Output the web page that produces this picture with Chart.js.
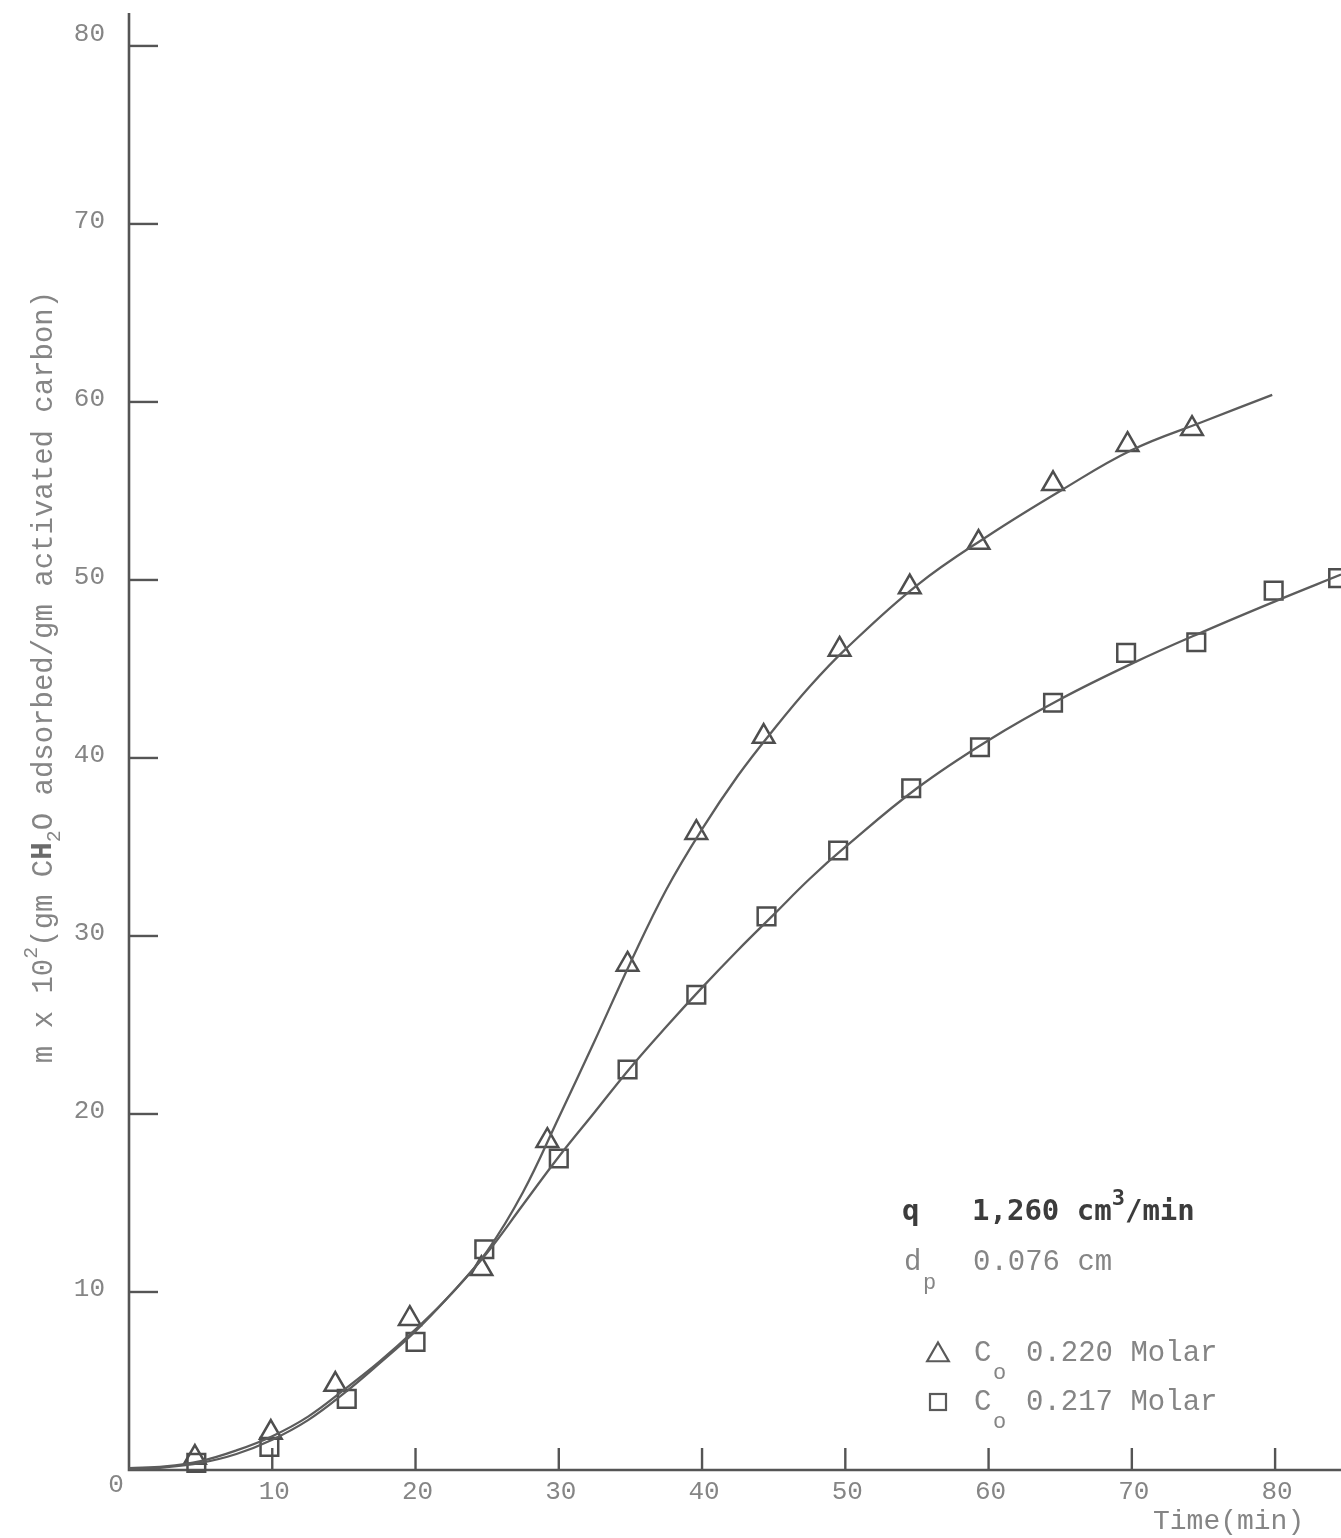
<!DOCTYPE html>
<html>
<head>
<meta charset="utf-8">
<script src="https://cdn.jsdelivr.net/npm/chart.js@4/dist/chart.umd.min.js"></script>
<style>
  html, body { margin: 0; padding: 0; background: #ffffff; }
  #wrap { position: relative; width: 1341px; height: 1538px; }
</style>
</head>
<body>
<div id="wrap"><canvas id="c"></canvas></div>
<script>
// Measured uptake, C0 = 0.220 M (triangles)
const timeTri   = [4.6, 9.9, 14.4, 19.6, 24.6, 29.2, 34.8, 39.6, 44.3, 49.6, 54.5, 59.3, 64.5, 69.7, 74.2];
const uptakeTri = [0.7, 2.1, 4.8, 8.5, 11.3, 18.5, 28.4, 35.8, 41.2, 46.1, 49.6, 52.1, 55.4, 57.6, 58.5];

// Measured uptake, C0 = 0.217 M (squares)
const timeSq   = [4.7, 9.8, 15.2, 20.0, 24.8, 30.0, 34.8, 39.6, 44.5, 49.5, 54.6, 59.4, 64.5, 69.6, 74.5, 79.9, 84.4];
const uptakeSq = [0.4, 1.3, 4.0, 7.2, 12.4, 17.5, 22.5, 26.7, 31.1, 34.8, 38.3, 40.6, 43.1, 45.9, 46.5, 49.4, 50.1];

// Hand-drawn smooth curves through each set
const curveTime220   = [0, 2.5, 5, 7.5, 10, 12.5, 15, 17.5, 20, 22.5, 25, 27.5, 30, 32.5, 35, 37.5, 40, 42.5, 45, 47.5, 50, 55, 60, 65, 70, 75, 79.8];
const curveUptake220 = [0.1, 0.2, 0.5, 1.1, 1.9, 3.0, 4.5, 6.1, 7.9, 9.9, 12.3, 15.6, 19.8, 24.1, 28.5, 32.6, 36.0, 39.0, 41.6, 44.0, 46.1, 49.7, 52.5, 55.0, 57.3, 58.9, 60.4];
const curveTime217   = [0, 2.5, 5, 7.5, 10, 12.5, 15, 17.5, 20, 22.5, 25, 27.5, 30, 32.5, 35, 37.5, 40, 42.5, 45, 47.5, 50, 55, 60, 65, 70, 75, 80, 84.6];
const curveUptake217 = [0.05, 0.15, 0.4, 0.9, 1.7, 2.8, 4.3, 6.0, 7.8, 9.9, 12.2, 14.9, 17.6, 20.1, 22.6, 24.9, 27.1, 29.2, 31.2, 33.2, 35.0, 38.3, 41.0, 43.3, 45.3, 47.1, 48.8, 50.3];

const xTickValues = [10, 20, 30, 40, 50, 60, 70, 80];
const yTickValues = [10, 20, 30, 40, 50, 60, 70, 80];
const xAxisTitle = 'Time(min)';

const INK = '#555555';
const TYPE = '#858585';
const MONO = '"Liberation Mono", "DejaVu Sans Mono", monospace';

const pairs = (xs, ys) => xs.map((x, i) => ({ x: x, y: ys[i] }));

// Draws a sequence of text runs; each run may be raised/lowered and use its own font.
function drawRuns(ctx, runs, x, y) {
  let cx = x;
  runs.forEach(r => {
    ctx.font = r.font;
    ctx.fillStyle = r.color;
    ctx.fillText(r.t, cx, y + (r.dy || 0));
    cx += ctx.measureText(r.t).width + (r.gap || 0);
  });
  return cx - x;
}
function runsWidth(ctx, runs) {
  let w = 0;
  runs.forEach(r => { ctx.font = r.font; w += ctx.measureText(r.t).width + (r.gap || 0); });
  return w;
}

const paperPlugin = {
  id: 'paper',
  beforeDatasetsDraw(chart) {
    const ctx = chart.ctx;
    const xs = chart.scales.x, ys = chart.scales.y;
    const x0 = xs.getPixelForValue(0);
    const y0 = ys.getPixelForValue(0);
    ctx.save();
    ctx.strokeStyle = INK;
    ctx.lineWidth = 2.6;
    ctx.lineCap = 'butt';
    // axes
    ctx.beginPath();
    ctx.moveTo(x0, chart.chartArea.top);
    ctx.lineTo(x0, y0);
    ctx.lineTo(chart.chartArea.right, y0);
    ctx.stroke();
    // inward tick marks
    ctx.lineWidth = 2.4;
    yTickValues.forEach(v => {
      const py = ys.getPixelForValue(v);
      ctx.beginPath();
      ctx.moveTo(x0, py);
      ctx.lineTo(x0 + 29, py);
      ctx.stroke();
    });
    xTickValues.forEach(v => {
      const px = xs.getPixelForValue(v);
      ctx.beginPath();
      ctx.moveTo(px, y0);
      ctx.lineTo(px, y0 - 22);
      ctx.stroke();
    });
    ctx.restore();
  },
  afterDraw(chart) {
    const ctx = chart.ctx;
    const xs = chart.scales.x, ys = chart.scales.y;
    const x0 = xs.getPixelForValue(0);
    const y0 = ys.getPixelForValue(0);
    ctx.save();
    ctx.textBaseline = 'middle';

    // tick labels
    ctx.fillStyle = TYPE;
    ctx.font = '26px ' + MONO;
    ctx.textAlign = 'right';
    yTickValues.forEach(v => {
      const off = v === 80 ? -12 : -3;
      ctx.fillText(String(v), x0 - 24, ys.getPixelForValue(v) + off);
    });
    ctx.textAlign = 'center';
    ctx.fillText('0', x0 - 13, y0 + 15);
    xTickValues.forEach(v => {
      ctx.fillText(String(v), xs.getPixelForValue(v) + 2, y0 + 22);
    });

    // x-axis title
    ctx.textAlign = 'left';
    ctx.font = '28px ' + MONO;
    ctx.fillText(xAxisTitle, 1153, 1522);

    // y-axis title, rotated
    const f = '29px ' + MONO, fs = '20px ' + MONO, fb = 'bold 29px ' + MONO;
    const titleRuns = [
      { t: 'm x 10', font: f, color: TYPE },
      { t: '2', font: fs, color: TYPE, dy: -12 },
      { t: '(gm C', font: f, color: TYPE },
      { t: 'H', font: fb, color: '#6a6a6a' },
      { t: '2', font: fs, color: TYPE, dy: 11 },
      { t: 'O adsorbed/gm activated carbon)', font: f, color: TYPE }
    ];
    const tw = runsWidth(ctx, titleRuns);
    ctx.save();
    ctx.translate(44, 677 + tw / 2);
    ctx.rotate(-Math.PI / 2);
    drawRuns(ctx, titleRuns, 0, 0);
    ctx.restore();

    // condition block
    const fa = '29px ' + MONO, fab = 'bold 29px "DejaVu Sans Mono", monospace', fsub = '22px ' + MONO;
    ctx.fillStyle = '#3c3c3c';
    ctx.font = fab;
    ctx.fillText('q', 902, 1212);
    drawRuns(ctx, [
      { t: '1,260 cm', font: fab, color: '#3c3c3c' },
      { t: '3', font: 'bold 22px "DejaVu Sans Mono", monospace', color: '#3c3c3c', dy: -13 },
      { t: '/min', font: fab, color: '#3c3c3c' }
    ], 972, 1212);

    drawRuns(ctx, [{ t: 'd', font: fa, color: TYPE }], 904, 1262);
    drawRuns(ctx, [{ t: 'p', font: fsub, color: TYPE }], 923, 1283);
    drawRuns(ctx, [{ t: '0.076 cm', font: fa, color: TYPE }], 973, 1262);

    // legend rows
    ctx.strokeStyle = '#5a5a5a';
    ctx.lineWidth = 2.2;
    const r = 12.5;
    ctx.beginPath();
    ctx.moveTo(938, 1355 - r);
    ctx.lineTo(938 + r * 0.866, 1355 + r * 0.5);
    ctx.lineTo(938 - r * 0.866, 1355 + r * 0.5);
    ctx.closePath();
    ctx.stroke();
    ctx.strokeRect(930, 1394, 16, 16);

    [[1353, '0.220 Molar'], [1402, '0.217 Molar']].forEach(([yy, txt]) => {
      drawRuns(ctx, [{ t: 'C', font: fa, color: TYPE }], 974, yy);
      drawRuns(ctx, [{ t: 'o', font: fsub, color: TYPE }], 993, yy + 20);
      drawRuns(ctx, [{ t: txt, font: fa, color: TYPE }], 1026, yy);
    });
    ctx.restore();
  }
};

new Chart(document.getElementById('c'), {
  type: 'line',
  data: {
    datasets: [
      {
        label: 'curve 0.220',
        data: pairs(curveTime220, curveUptake220),
        borderColor: '#5c5c5c', borderWidth: 2.3,
        pointRadius: 0, tension: 0.4, fill: false
      },
      {
        label: 'curve 0.217',
        data: pairs(curveTime217, curveUptake217),
        borderColor: '#5c5c5c', borderWidth: 2.3,
        pointRadius: 0, tension: 0.4, fill: false
      },
      {
        label: 'C0 0.220 Molar',
        data: pairs(timeTri, uptakeTri),
        showLine: false, pointStyle: 'triangle', pointRadius: 12.5,
        pointBorderWidth: 2.5, pointBorderColor: '#4e4e4e', pointBackgroundColor: 'rgba(0,0,0,0)',
        clip: false
      },
      {
        label: 'C0 0.217 Molar',
        data: pairs(timeSq, uptakeSq),
        showLine: false, pointStyle: 'rect', pointRadius: 12.5,
        pointBorderWidth: 2.5, pointBorderColor: '#4e4e4e', pointBackgroundColor: 'rgba(0,0,0,0)',
        clip: false
      }
    ]
  },
  options: {
    responsive: true,
    maintainAspectRatio: false,
    animation: false,
    events: [],
    layout: { autoPadding: false, padding: { left: 129, right: 0, top: 13, bottom: 68 } },
    plugins: { legend: { display: false }, tooltip: { enabled: false } },
    scales: {
      x: { type: 'linear', min: 0, max: 84.6, display: false },
      y: { type: 'linear', min: 0, max: 81.85, display: false }
    }
  },
  plugins: [paperPlugin]
});
</script>
</body>
</html>
